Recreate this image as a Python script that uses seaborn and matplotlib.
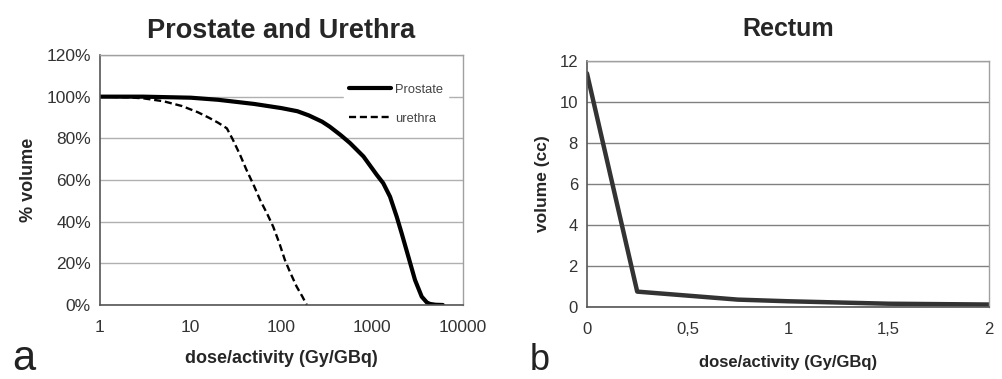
import pandas as pd
import numpy as np
import matplotlib.pyplot as plt
import seaborn as sns
from matplotlib.ticker import FixedLocator, FuncFormatter, NullLocator

# Data
prostate_dose = [1, 3, 10, 20, 50, 100, 150, 200, 280, 340, 450, 570, 800, 1120, 1320, 1570, 1860, 2110, 2500, 2960, 3510, 4000, 4330, 5000, 6000]
prostate_vol = [100, 100, 99.5, 98.5, 96.5, 94.5, 93, 91, 88, 85.6, 81.5, 77.7, 71.3, 62.5, 58.5, 52, 42.4, 34.4, 23.2, 12, 4, 1.2, 0.5, 0.1, 0]

urethra_dose = [1, 2, 3, 5, 8, 12, 16, 20, 25, 29, 35, 41, 50, 58, 70, 81, 95, 109, 125, 147, 170, 190]
urethra_vol = [100, 99.7, 99.2, 97.8, 95.5, 92.5, 89.8, 87.5, 84.8, 79.5, 72, 65, 57, 50.5, 43.5, 37.6, 29.5, 21.6, 15.5, 8.8, 4, 0]

rectum_dose = [0, 0.25, 0.75, 1.0, 1.5, 2.0]
rectum_vol = [11.4, 0.75, 0.36, 0.28, 0.16, 0.12]

left_yticks = [0, 20, 40, 60, 80, 100, 120]
left_xticks = [1, 10, 100, 1000, 10000]
right_yticks = [0, 2, 4, 6, 8, 10, 12]
right_xticks = [0, 0.5, 1, 1.5, 2]

sns.set_style("white")
plt.rcParams['font.family'] = ['Liberation Sans', 'DejaVu Sans']

fig = plt.figure(figsize=(10.03, 3.79), dpi=100)
ax1 = fig.add_axes([0.0997, 0.1953, 0.3619, 0.6596])
ax2 = fig.add_axes([0.5852, 0.19, 0.4008, 0.649])

df_p = pd.DataFrame({"dose": prostate_dose, "vol": prostate_vol})
df_u = pd.DataFrame({"dose": urethra_dose, "vol": urethra_vol})
df_r = pd.DataFrame({"dose": rectum_dose, "vol": rectum_vol})

for ax in (ax1, ax2):
    ax.set_axisbelow(True)

# Left panel
sns.lineplot(data=df_p, x="dose", y="vol", ax=ax1, color="black", linewidth=3, label="Prostate")
sns.lineplot(data=df_u, x="dose", y="vol", ax=ax1, color="black", linewidth=1.7,
             linestyle=(0, (3, 1.6)), label="urethra")
ax1.set_xscale("log")
ax1.set_xlim(1, 10000)
ax1.set_ylim(0, 120)
ax1.xaxis.set_major_locator(FixedLocator(left_xticks))
ax1.xaxis.set_minor_locator(NullLocator())
ax1.xaxis.set_major_formatter(FuncFormatter(lambda v, p: f"{int(v)}"))
ax1.set_yticks(left_yticks)
ax1.yaxis.set_major_formatter(FuncFormatter(lambda v, p: f"{int(v)}%"))
ax1.yaxis.grid(True, color="#b0b0b0", linewidth=1)
ax1.set_title("Prostate and Urethra", fontsize=19.5, fontweight="bold", pad=12)
ax1.set_xlabel("dose/activity (Gy/GBq)", fontsize=13, fontweight="bold", labelpad=11)
ax1.set_ylabel("% volume", fontsize=13, fontweight="bold", labelpad=7)
leg = ax1.legend(loc="upper right", bbox_to_anchor=(0.96, 0.905), frameon=True, fontsize=9.3,
                 handlelength=3.25, handletextpad=0.3, labelspacing=1.3, borderaxespad=0)
leg.get_frame().set_edgecolor("white")
leg.get_frame().set_facecolor("white")
leg.get_frame().set_alpha(1)
for t in leg.get_texts():
    t.set_color("#444444")

# Right panel
sns.lineplot(data=df_r, x="dose", y="vol", ax=ax2, color="#333333", linewidth=3.2, legend=False)
ax2.set_xlim(0, 2)
ax2.set_ylim(0, 12)
ax2.set_xticks(right_xticks)
ax2.xaxis.set_major_formatter(FuncFormatter(lambda v, p: f"{v:g}".replace(".", ",")))
ax2.set_yticks(right_yticks)
ax2.yaxis.grid(True, color="#808080", linewidth=1)
ax2.set_title("Rectum", fontsize=18, fontweight="bold", pad=18)
ax2.set_xlabel("dose/activity (Gy/GBq)", fontsize=12, fontweight="bold", labelpad=13)
ax2.set_ylabel("volume (cc)", fontsize=12.5, fontweight="bold", labelpad=7)

for ax, fs in ((ax1, 12.5), (ax2, 12)):
    ax.tick_params(axis="both", which="major", labelsize=fs,
                   length=4.5, width=1, direction="out")
    ax.tick_params(axis="x", pad=6)
    ax.tick_params(axis="y", pad=2)
    for side in ("left", "bottom"):
        ax.spines[side].set_color("#555555")
        ax.spines[side].set_linewidth(1.2)
    for side in ("top", "right"):
        ax.spines[side].set_color("#a0a0a0")
        ax.spines[side].set_linewidth(1)
    ax.tick_params(axis="both", colors="#555555", labelcolor="#333333")

fig.text(0.012, 0.025, "a", fontsize=30, color="#222222")
fig.text(0.528, 0.025, "b", fontsize=26, color="#222222")

fig.savefig("out.png", dpi=100)
